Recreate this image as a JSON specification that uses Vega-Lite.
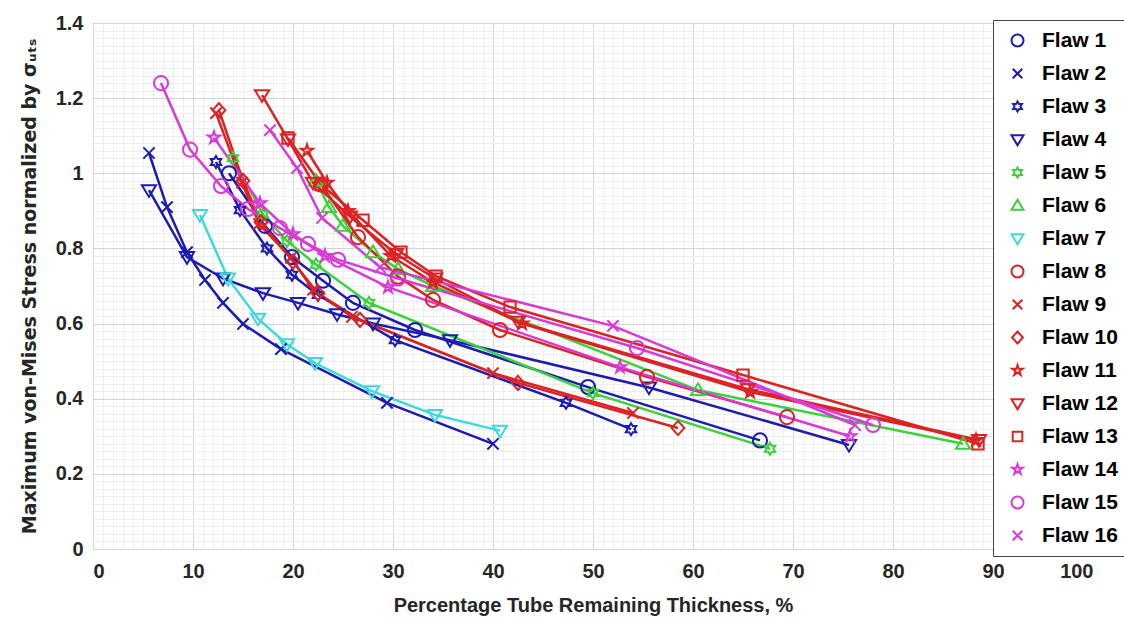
{
  "$schema": "https://vega.github.io/schema/vega-lite/v6.json",
  "autosize": {"type": "none"},
  "width": 1000,
  "height": 526,
  "padding": {"left": 93, "top": 23, "right": 31, "bottom": 74},
  "background": "white",
  "config": {
    "view": {"stroke": "#444444", "strokeWidth": 1},
    "font": "Liberation Sans",
    "legend": {
      "title": null,
      "orient": "none",
      "legendX": 900,
      "legendY": -3,
      "fillColor": "white",
      "strokeColor": "#444444",
      "padding": 10,
      "symbolSize": 144,
      "symbolStrokeWidth": 2,
      "symbolOffset": 4,
      "labelOffset": 14,
      "labelFont": "Liberation Sans",
      "labelFontSize": 21,
      "labelFontWeight": "bold",
      "labelColor": "black",
      "labelLimit": 200,
      "rowPadding": 11
    }
  },
  "data": {
    "values": [
      {"f": "Flaw 1", "x": 13.6, "y": 1.0}, {"f": "Flaw 1", "x": 17.2, "y": 0.86}, {"f": "Flaw 1", "x": 19.9, "y": 0.777}, {"f": "Flaw 1", "x": 23.0, "y": 0.714}, {"f": "Flaw 1", "x": 26.0, "y": 0.655}, {"f": "Flaw 1", "x": 32.2, "y": 0.583}, {"f": "Flaw 1", "x": 49.5, "y": 0.431}, {"f": "Flaw 1", "x": 66.7, "y": 0.289},
      {"f": "Flaw 2", "x": 5.6, "y": 1.054}, {"f": "Flaw 2", "x": 7.4, "y": 0.91}, {"f": "Flaw 2", "x": 9.4, "y": 0.79}, {"f": "Flaw 2", "x": 11.2, "y": 0.716}, {"f": "Flaw 2", "x": 13.0, "y": 0.655}, {"f": "Flaw 2", "x": 15.0, "y": 0.599}, {"f": "Flaw 2", "x": 18.8, "y": 0.532}, {"f": "Flaw 2", "x": 29.4, "y": 0.389}, {"f": "Flaw 2", "x": 40.0, "y": 0.28},
      {"f": "Flaw 3", "x": 12.3, "y": 1.03}, {"f": "Flaw 3", "x": 14.7, "y": 0.902}, {"f": "Flaw 3", "x": 17.4, "y": 0.8}, {"f": "Flaw 3", "x": 19.9, "y": 0.73}, {"f": "Flaw 3", "x": 22.5, "y": 0.676}, {"f": "Flaw 3", "x": 30.2, "y": 0.556}, {"f": "Flaw 3", "x": 47.3, "y": 0.389}, {"f": "Flaw 3", "x": 53.8, "y": 0.319},
      {"f": "Flaw 4", "x": 5.6, "y": 0.955}, {"f": "Flaw 4", "x": 9.4, "y": 0.777}, {"f": "Flaw 4", "x": 13.0, "y": 0.72}, {"f": "Flaw 4", "x": 17.0, "y": 0.681}, {"f": "Flaw 4", "x": 20.5, "y": 0.655}, {"f": "Flaw 4", "x": 24.4, "y": 0.625}, {"f": "Flaw 4", "x": 28.0, "y": 0.6}, {"f": "Flaw 4", "x": 35.7, "y": 0.556}, {"f": "Flaw 4", "x": 55.6, "y": 0.43}, {"f": "Flaw 4", "x": 75.6, "y": 0.277},
      {"f": "Flaw 5", "x": 14.0, "y": 1.04}, {"f": "Flaw 5", "x": 17.0, "y": 0.89}, {"f": "Flaw 5", "x": 19.4, "y": 0.82}, {"f": "Flaw 5", "x": 22.3, "y": 0.757}, {"f": "Flaw 5", "x": 27.6, "y": 0.655}, {"f": "Flaw 5", "x": 50.0, "y": 0.415}, {"f": "Flaw 5", "x": 67.7, "y": 0.267},
      {"f": "Flaw 6", "x": 22.3, "y": 0.98}, {"f": "Flaw 6", "x": 23.6, "y": 0.91}, {"f": "Flaw 6", "x": 25.0, "y": 0.86}, {"f": "Flaw 6", "x": 28.0, "y": 0.79}, {"f": "Flaw 6", "x": 30.5, "y": 0.745}, {"f": "Flaw 6", "x": 34.0, "y": 0.7}, {"f": "Flaw 6", "x": 60.5, "y": 0.423}, {"f": "Flaw 6", "x": 87.0, "y": 0.28},
      {"f": "Flaw 7", "x": 10.7, "y": 0.889}, {"f": "Flaw 7", "x": 13.5, "y": 0.72}, {"f": "Flaw 7", "x": 16.5, "y": 0.613}, {"f": "Flaw 7", "x": 19.4, "y": 0.545}, {"f": "Flaw 7", "x": 22.2, "y": 0.495}, {"f": "Flaw 7", "x": 27.9, "y": 0.42}, {"f": "Flaw 7", "x": 34.2, "y": 0.357}, {"f": "Flaw 7", "x": 40.7, "y": 0.315},
      {"f": "Flaw 8", "x": 22.8, "y": 0.97}, {"f": "Flaw 8", "x": 26.5, "y": 0.83}, {"f": "Flaw 8", "x": 30.5, "y": 0.725}, {"f": "Flaw 8", "x": 34.0, "y": 0.663}, {"f": "Flaw 8", "x": 40.7, "y": 0.583}, {"f": "Flaw 8", "x": 55.4, "y": 0.458}, {"f": "Flaw 8", "x": 69.4, "y": 0.351},
      {"f": "Flaw 9", "x": 12.3, "y": 1.16}, {"f": "Flaw 9", "x": 14.9, "y": 0.975}, {"f": "Flaw 9", "x": 16.6, "y": 0.865}, {"f": "Flaw 9", "x": 19.8, "y": 0.775}, {"f": "Flaw 9", "x": 22.0, "y": 0.69}, {"f": "Flaw 9", "x": 25.9, "y": 0.618}, {"f": "Flaw 9", "x": 40.0, "y": 0.468}, {"f": "Flaw 9", "x": 54.0, "y": 0.362},
      {"f": "Flaw 10", "x": 12.6, "y": 1.168}, {"f": "Flaw 10", "x": 15.0, "y": 0.98}, {"f": "Flaw 10", "x": 16.8, "y": 0.87}, {"f": "Flaw 10", "x": 20.0, "y": 0.765}, {"f": "Flaw 10", "x": 22.5, "y": 0.68}, {"f": "Flaw 10", "x": 26.7, "y": 0.61}, {"f": "Flaw 10", "x": 42.5, "y": 0.442}, {"f": "Flaw 10", "x": 58.5, "y": 0.322},
      {"f": "Flaw 11", "x": 21.4, "y": 1.06}, {"f": "Flaw 11", "x": 23.4, "y": 0.975}, {"f": "Flaw 11", "x": 25.5, "y": 0.9}, {"f": "Flaw 11", "x": 29.8, "y": 0.78}, {"f": "Flaw 11", "x": 34.0, "y": 0.71}, {"f": "Flaw 11", "x": 42.9, "y": 0.6}, {"f": "Flaw 11", "x": 65.7, "y": 0.418}, {"f": "Flaw 11", "x": 88.3, "y": 0.29},
      {"f": "Flaw 12", "x": 16.9, "y": 1.208}, {"f": "Flaw 12", "x": 19.5, "y": 1.09}, {"f": "Flaw 12", "x": 22.0, "y": 0.975}, {"f": "Flaw 12", "x": 25.7, "y": 0.885}, {"f": "Flaw 12", "x": 30.3, "y": 0.785}, {"f": "Flaw 12", "x": 34.2, "y": 0.72}, {"f": "Flaw 12", "x": 42.5, "y": 0.605}, {"f": "Flaw 12", "x": 65.5, "y": 0.425}, {"f": "Flaw 12", "x": 88.6, "y": 0.29},
      {"f": "Flaw 13", "x": 19.5, "y": 1.094}, {"f": "Flaw 13", "x": 22.8, "y": 0.97}, {"f": "Flaw 13", "x": 27.0, "y": 0.875}, {"f": "Flaw 13", "x": 30.8, "y": 0.79}, {"f": "Flaw 13", "x": 34.3, "y": 0.726}, {"f": "Flaw 13", "x": 41.7, "y": 0.644}, {"f": "Flaw 13", "x": 65.0, "y": 0.463}, {"f": "Flaw 13", "x": 88.5, "y": 0.28},
      {"f": "Flaw 14", "x": 12.1, "y": 1.095}, {"f": "Flaw 14", "x": 16.7, "y": 0.92}, {"f": "Flaw 14", "x": 20.0, "y": 0.838}, {"f": "Flaw 14", "x": 23.2, "y": 0.78}, {"f": "Flaw 14", "x": 29.5, "y": 0.697}, {"f": "Flaw 14", "x": 52.7, "y": 0.484}, {"f": "Flaw 14", "x": 75.7, "y": 0.3},
      {"f": "Flaw 15", "x": 6.8, "y": 1.24}, {"f": "Flaw 15", "x": 9.7, "y": 1.063}, {"f": "Flaw 15", "x": 12.8, "y": 0.966}, {"f": "Flaw 15", "x": 15.5, "y": 0.905}, {"f": "Flaw 15", "x": 18.7, "y": 0.854}, {"f": "Flaw 15", "x": 21.5, "y": 0.812}, {"f": "Flaw 15", "x": 24.5, "y": 0.77}, {"f": "Flaw 15", "x": 30.5, "y": 0.72}, {"f": "Flaw 15", "x": 54.4, "y": 0.535}, {"f": "Flaw 15", "x": 78.0, "y": 0.33},
      {"f": "Flaw 16", "x": 17.7, "y": 1.115}, {"f": "Flaw 16", "x": 20.4, "y": 1.014}, {"f": "Flaw 16", "x": 22.9, "y": 0.881}, {"f": "Flaw 16", "x": 28.7, "y": 0.75}, {"f": "Flaw 16", "x": 52.0, "y": 0.594}, {"f": "Flaw 16", "x": 76.2, "y": 0.33}
    ]
  },
  "encoding": {
    "x": {
      "field": "x", "type": "quantitative",
      "scale": {"domain": [0, 100], "nice": false, "zero": false},
      "axis": {
        "title": "Percentage Tube Remaining Thickness, %",
        "values": [0,1,2,3,4,5,6,7,8,9,10,11,12,13,14,15,16,17,18,19,20,21,22,23,24,25,26,27,28,29,30,31,32,33,34,35,36,37,38,39,40,41,42,43,44,45,46,47,48,49,50,51,52,53,54,55,56,57,58,59,60,61,62,63,64,65,66,67,68,69,70,71,72,73,74,75,76,77,78,79,80,81,82,83,84,85,86,87,88,89,90,91,92,93,94,95,96,97,98,99,100],
        "format": "d",
        "labelExpr": "datum.value % 10 === 0 ? datum.label : ''",
        "grid": true,
        "gridColor": {"condition": {"test": "datum.value % 10 === 0", "value": "#d4d4d4"}, "value": "#eeeeee"},
        "gridWidth": 1,
        "ticks": false,
        "domain": false,
        "labelFont": "Liberation Sans", "labelFontSize": 20, "labelFontWeight": "bold", "labelColor": "#262626",
        "labelPadding": 12,
        "titleFont": "Liberation Sans", "titleFontSize": 20, "titleFontWeight": "bold", "titleColor": "#262626",
        "titlePadding": 14
      }
    },
    "y": {
      "field": "y", "type": "quantitative",
      "scale": {"domain": [0, 1.4], "nice": false},
      "axis": {
        "title": "Maximum von-Mises Stress normalized by σᵤₜₛ",
        "values": [0,0.02,0.04,0.06,0.08,0.1,0.12,0.14,0.16,0.18,0.2,0.22,0.24,0.26,0.28,0.3,0.32,0.34,0.36,0.38,0.4,0.42,0.44,0.46,0.48,0.5,0.52,0.54,0.56,0.58,0.6,0.62,0.64,0.66,0.68,0.7,0.72,0.74,0.76,0.78,0.8,0.82,0.84,0.86,0.88,0.9,0.92,0.94,0.96,0.98,1,1.02,1.04,1.06,1.08,1.1,1.12,1.14,1.16,1.18,1.2,1.22,1.24,1.26,1.28,1.3,1.32,1.34,1.36,1.38,1.4],
        "format": ".2~f",
        "labelExpr": "round(datum.value * 100) % 20 === 0 ? datum.label : ''",
        "grid": true,
        "gridColor": {"condition": {"test": "round(datum.value * 100) % 20 === 0", "value": "#d4d4d4"}, "value": "#eeeeee"},
        "gridWidth": 1,
        "ticks": false,
        "domain": false,
        "labelFont": "Liberation Sans", "labelFontSize": 20, "labelFontWeight": "bold", "labelColor": "#262626",
        "labelPadding": 10,
        "titleFont": "DejaVu Sans", "titleFontSize": 19, "titleFontWeight": "bold", "titleColor": "#262626",
        "titlePadding": 16
      }
    },
    "color": {
      "field": "f", "type": "nominal",
      "scale": {
        "domain": ["Flaw 1","Flaw 2","Flaw 3","Flaw 4","Flaw 5","Flaw 6","Flaw 7","Flaw 8","Flaw 9","Flaw 10","Flaw 11","Flaw 12","Flaw 13","Flaw 14","Flaw 15","Flaw 16"],
        "range": ["#1c1cb4","#1c1cb4","#1c1cb4","#1c1cb4","#3ad23a","#3ad23a","#3adada","#dc2222","#dc2222","#dc2222","#dc2222","#dc2222","#dc2222","#d83ad8","#d83ad8","#d83ad8"]
      },
      "legend": {
        "encode": {
          "symbols": {
            "update": {
              "shape": {"value": {"signal": "scale('shape', datum.value) + 'M-2.6,0L2.6,0'"}}
            }
          }
        }
      }
    }
  },
  "layer": [
    {
      "mark": {"type": "line", "strokeWidth": 2.5},
      "encoding": {"detail": {"field": "f"}}
    },
    {
      "mark": {"type": "point", "filled": false, "strokeWidth": 2, "size": 200, "opacity": 1},
      "encoding": {
        "shape": {
          "field": "f", "type": "nominal",
          "scale": {
            "domain": ["Flaw 1","Flaw 2","Flaw 3","Flaw 4","Flaw 5","Flaw 6","Flaw 7","Flaw 8","Flaw 9","Flaw 10","Flaw 11","Flaw 12","Flaw 13","Flaw 14","Flaw 15","Flaw 16"],
            "range": [
              "M1,0A1,1 0 1,1 -1,0A1,1 0 1,1 1,0Z",
              "M-0.8,-0.8L0.8,0.8M-0.8,0.8L0.8,-0.8",
              "M0,-0.85L0.25,-0.43L0.74,-0.43L0.49,0L0.74,0.43L0.25,0.43L0,0.85L-0.25,0.43L-0.74,0.43L-0.49,0L-0.74,-0.43L-0.25,-0.43Z",
              "M-1,-0.7L1,-0.7L0,0.95Z",
              "M0,-0.85L0.25,-0.43L0.74,-0.43L0.49,0L0.74,0.43L0.25,0.43L0,0.85L-0.25,0.43L-0.74,0.43L-0.49,0L-0.74,-0.43L-0.25,-0.43Z",
              "M0,-0.95L1,0.7L-1,0.7Z",
              "M-1,-0.7L1,-0.7L0,0.95Z",
              "M1,0A1,1 0 1,1 -1,0A1,1 0 1,1 1,0Z",
              "M-0.8,-0.8L0.8,0.8M-0.8,0.8L0.8,-0.8",
              "M0,-1L0.9,0L0,1L-0.9,0Z",
              "M0,-0.9L0.2,-0.28L0.86,-0.28L0.33,0.11L0.53,0.73L0,0.34L-0.53,0.73L-0.33,0.11L-0.86,-0.28L-0.2,-0.28Z",
              "M-1,-0.7L1,-0.7L0,0.95Z",
              "M-0.8,-0.8L0.8,-0.8L0.8,0.8L-0.8,0.8Z",
              "M0,-0.9L0.2,-0.28L0.86,-0.28L0.33,0.11L0.53,0.73L0,0.34L-0.53,0.73L-0.33,0.11L-0.86,-0.28L-0.2,-0.28Z",
              "M1,0A1,1 0 1,1 -1,0A1,1 0 1,1 1,0Z",
              "M-0.8,-0.8L0.8,0.8M-0.8,0.8L0.8,-0.8"
            ]
          }
        }
      }
    }
  ]
}
